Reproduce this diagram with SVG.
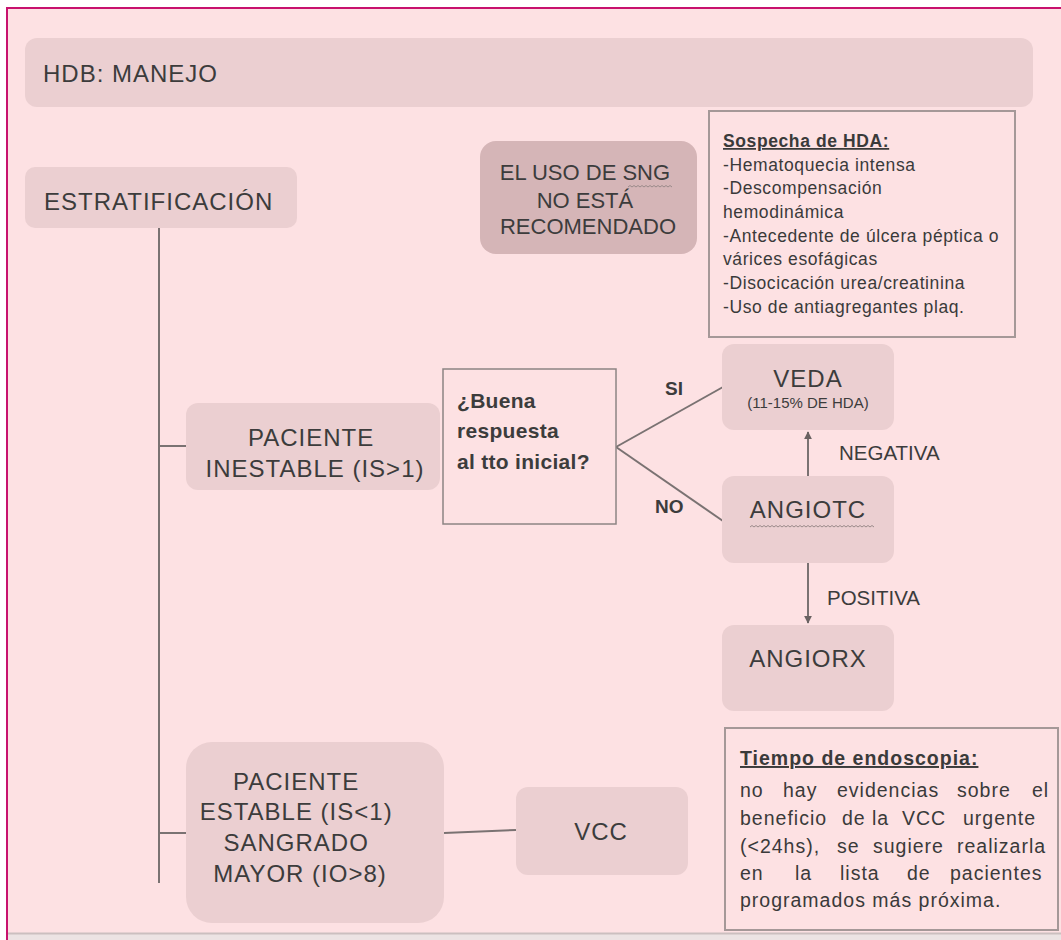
<svg xmlns="http://www.w3.org/2000/svg" width="1061" height="940" viewBox="0 0 1061 940">
<defs>
<style>
.node{fill:#ebcfd1;}
.dark{fill:#d5b5b7;}
.box{fill:#fde1e3;stroke:#a59898;stroke-width:2;}
.qbox{fill:#fde1e3;stroke:#8c8484;stroke-width:1.5;}
.lbl{font-family:"Liberation Sans",Arial,sans-serif;fill:#3c3c3c;}
.big{font-size:24px;letter-spacing:1px;}
.mid{font-size:22px;}
.cal{font-family:"Liberation Sans",Arial,sans-serif;fill:#3a3a3a;font-size:17.5px;letter-spacing:0.6px;}
.cal2{font-family:"Liberation Sans",Arial,sans-serif;fill:#3a3a3a;font-size:19.5px;letter-spacing:1px;}
.bold{font-weight:bold;}
.conn{stroke:#7a7272;stroke-width:2;fill:none;}
.squig{stroke:#9a8a8a;stroke-width:1;fill:none;}
</style>
<marker id="arr" viewBox="0 0 10 10" refX="9" refY="5" markerWidth="4" markerHeight="4" orient="auto">
<path d="M0,0 L10,5 L0,10 z" fill="#6a6262"/>
</marker>
</defs>

<rect x="0" y="0" width="1061" height="940" fill="#ffffff"/>
<rect x="7" y="8" width="1060" height="925" fill="#fde1e3"/>
<rect x="7" y="934" width="1060" height="6" fill="#ece3e3"/>
<line x1="7" y1="933.5" x2="1061" y2="933.5" stroke="#cbbfbf" stroke-width="2"/>
<path d="M7,940 L7,8 L1061,8" fill="none" stroke="#c8126e" stroke-width="2"/>

<g id="connectors">
<line class="conn" x1="159" y1="228" x2="159" y2="883"/>
<line class="conn" x1="159" y1="446" x2="186" y2="446"/>
<line class="conn" x1="159" y1="833" x2="186" y2="833"/>
<line class="conn" x1="444" y1="833" x2="516" y2="830"/>
<line class="conn" x1="616" y1="447" x2="723" y2="387"/>
<line class="conn" x1="616" y1="447" x2="723" y2="521"/>
<line class="conn" x1="808" y1="476" x2="808" y2="432" marker-end="url(#arr)"/>
<line class="conn" x1="808" y1="563" x2="808" y2="623" marker-end="url(#arr)"/>
<text class="lbl bold" x="665" y="395" font-size="19">SI</text>
<text class="lbl bold" x="655" y="513" font-size="19">NO</text>
<text class="lbl" x="839" y="460" font-size="20.5">NEGATIVA</text>
<text class="lbl" x="827" y="605" font-size="20.5">POSITIVA</text>
</g>

<g id="title">
<rect class="node" x="25" y="38" width="1008" height="69" rx="12"/>
<text class="lbl big" x="43" y="82">HDB: MANEJO</text>
</g>

<g id="estratificacion">
<rect class="node" x="25" y="167" width="272" height="61" rx="10"/>
<text class="lbl big" x="44" y="210">ESTRATIFICACIÓN</text>
</g>

<g id="sng">
<rect class="dark" x="480" y="141" width="217" height="113" rx="16"/>
<text class="lbl mid" text-anchor="middle">
<tspan x="588" y="180">EL USO DE SNG</tspan>
<tspan x="588" y="208">NO ESTÁ</tspan>
<tspan x="588" y="234">RECOMENDADO</tspan>
</text>
<path class="squig" d="M628,187 l2,-1.5 l2,1.5 l2,-1.5 l2,1.5 l2,-1.5 l2,1.5 l2,-1.5 l2,1.5 l2,-1.5 l2,1.5 l2,-1.5 l2,1.5 l2,-1.5 l2,1.5 l2,-1.5 l2,1.5 l2,-1.5 l2,1.5 l2,-1.5 l2,1.5 l2,-1.5 l2,1.5"/>
</g>

<g id="sospecha">
<rect class="box" x="709" y="111" width="306" height="226"/>
<text class="cal bold" x="723" y="147" letter-spacing="0.1" text-decoration="underline">Sospecha de HDA:</text>
<text class="cal">
<tspan x="723" y="171">-Hematoquecia intensa</tspan>
<tspan x="723" y="194">-Descompensación</tspan>
<tspan x="723" y="218">hemodinámica</tspan>
<tspan x="723" y="242">-Antecedente de úlcera péptica o</tspan>
<tspan x="723" y="265">várices esofágicas</tspan>
<tspan x="723" y="289">-Disocicación urea/creatinina</tspan>
<tspan x="723" y="313">-Uso de antiagregantes plaq.</tspan>
</text>
</g>

<g id="inestable">
<rect class="node" x="186" y="403" width="254" height="87" rx="12"/>
<text class="lbl big" text-anchor="middle" letter-spacing="0.5">
<tspan x="315" y="446">PACIENTE</tspan>
<tspan x="315" y="477">INESTABLE (IS&gt;1)</tspan>
</text>
</g>

<g id="pregunta">
<rect class="qbox" x="443" y="369" width="173" height="155"/>
<text class="lbl bold" font-size="21" letter-spacing="0.3">
<tspan x="457" y="408">¿Buena</tspan>
<tspan x="457" y="438">respuesta</tspan>
<tspan x="457" y="469">al tto inicial?</tspan>
</text>
</g>

<g id="veda">
<rect class="node" x="722" y="344" width="172" height="86" rx="12"/>
<text class="lbl big" x="808" y="387" text-anchor="middle">VEDA</text>
<text class="lbl" x="808" y="408" text-anchor="middle" font-size="15">(11-15% DE HDA)</text>
</g>

<g id="angiotc">
<rect class="node" x="722" y="476" width="172" height="87" rx="12"/>
<text class="lbl big" x="808" y="518" text-anchor="middle">ANGIOTC</text>
<path class="squig" d="M750,527 l2,-1.5 l2,1.5 l2,-1.5 l2,1.5 l2,-1.5 l2,1.5 l2,-1.5 l2,1.5 l2,-1.5 l2,1.5 l2,-1.5 l2,1.5 l2,-1.5 l2,1.5 l2,-1.5 l2,1.5 l2,-1.5 l2,1.5 l2,-1.5 l2,1.5 l2,-1.5 l2,1.5 l2,-1.5 l2,1.5 l2,-1.5 l2,1.5 l2,-1.5 l2,1.5 l2,-1.5 l2,1.5 l2,-1.5 l2,1.5 l2,-1.5 l2,1.5 l2,-1.5 l2,1.5 l2,-1.5 l2,1.5 l2,-1.5 l2,1.5 l2,-1.5 l2,1.5 l2,-1.5 l2,1.5 l2,-1.5 l2,1.5 l2,-1.5 l2,1.5 l2,-1.5 l2,1.5 l2,-1.5 l2,1.5 l2,-1.5 l2,1.5 l2,-1.5 l2,1.5 l2,-1.5 l2,1.5 l2,-1.5 l2,1.5 l2,-1.5 l2,1.5"/>
</g>

<g id="angiorx">
<rect class="node" x="722" y="625" width="172" height="86" rx="12"/>
<text class="lbl big" x="808" y="667" text-anchor="middle">ANGIORX</text>
</g>

<g id="estable">
<rect class="node" x="186" y="742" width="258" height="181" rx="26"/>
<text class="lbl big" text-anchor="middle" letter-spacing="0.5">
<tspan x="300" y="790">PACIENTE</tspan>
<tspan x="300" y="820">ESTABLE (IS&lt;1)</tspan>
<tspan x="300" y="851">SANGRADO</tspan>
<tspan x="300" y="882">MAYOR (IO&gt;8)</tspan>
</text>
</g>

<g id="vcc">
<rect class="node" x="516" y="787" width="172" height="88" rx="12"/>
<text class="lbl big" x="601" y="840" text-anchor="middle">VCC</text>
</g>

<g id="tiempo">
<rect class="box" x="725" y="728" width="333" height="202"/>
<text class="cal2 bold" x="740" y="765" font-size="20" letter-spacing="0.5" text-decoration="underline">Tiempo de endoscopia:</text>
<text class="cal2">
<tspan x="740" y="797">no</tspan><tspan x="783" y="797">hay</tspan><tspan x="837" y="797">evidencias</tspan><tspan x="957" y="797">sobre</tspan><tspan x="1032" y="797">el</tspan>
<tspan x="740" y="825">beneficio</tspan><tspan x="842" y="825">de</tspan><tspan x="872" y="825">la</tspan><tspan x="902" y="825">VCC</tspan><tspan x="963" y="825">urgente</tspan>
<tspan x="740" y="853">(&lt;24hs),</tspan><tspan x="837" y="853">se</tspan><tspan x="873" y="853">sugiere</tspan><tspan x="957" y="853">realizarla</tspan>
<tspan x="740" y="880">en</tspan><tspan x="795" y="880">la</tspan><tspan x="840" y="880">lista</tspan><tspan x="907" y="880">de</tspan><tspan x="950" y="880">pacientes</tspan>
<tspan x="740" y="907">programados más próxima.</tspan>
</text>
</g>
</svg>
